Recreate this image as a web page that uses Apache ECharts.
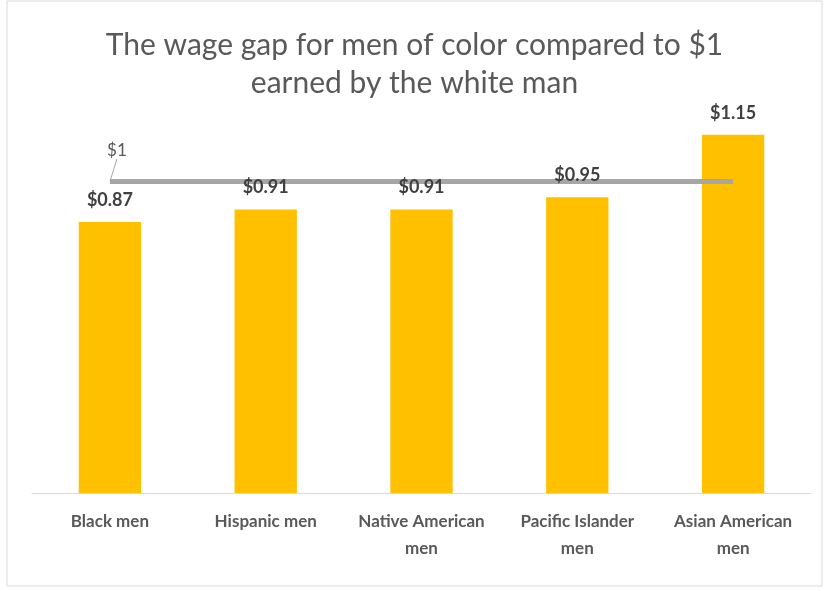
<!DOCTYPE html>
<html>
<head>
<meta charset="utf-8">
<script src="https://cdn.jsdelivr.net/npm/echarts@6/dist/echarts.min.js"></script>
<style>
  html, body { margin: 0; padding: 0; background: #fff; }
  #chartOne { width: 829px; height: 591px; }
</style>
</head>
<body>
<div id="chartOne"></div>
<script>
// values
var categories = ['Black men', 'Hispanic men', 'Native American\nmen', 'Pacific Islander\nmen', 'Asian American\nmen'];
var wages = [0.87, 0.91, 0.91, 0.95, 1.15];
var whiteMan = [1, 1, 1, 1, 1];

var chartOne = echarts.init(document.getElementById('chartOne'));

var valueLabel = {
    show: true,
    position: 'top',
    distance: 13,
    formatter: function (p) { return '$' + p.value.toFixed(2); },
    fontFamily: 'Lato',
    fontWeight: 'bold',
    fontSize: 18,
    color: '#404040'
};

var option = {
    backgroundColor: '#fff',
    title: {
        text: 'The wage gap for men of color compared to $1\nearned by the white man',
        left: 'center',
        top: 21,
        textStyle: {
            fontFamily: 'Lato',
            fontWeight: 'normal',
            fontSize: 30,
            lineHeight: 38,
            color: '#595959'
        }
    },
    graphic: [{
        type: 'rect',
        shape: { x: 7, y: 1, width: 815, height: 585 },
        style: { fill: 'none', stroke: '#d9d9d9', lineWidth: 1 },
        silent: true
    }],
    grid: { left: 32, right: 18, top: 57, bottom: 98 },
    xAxis: {
        type: 'category',
        data: categories,
        axisTick: { show: false },
        axisLine: { lineStyle: { color: '#d9d9d9', width: 1 } },
        axisLabel: {
            interval: 0,
            margin: 15,
            fontFamily: 'Lato',
            fontWeight: 'bold',
            fontSize: 17,
            lineHeight: 27,
            color: '#595959'
        }
    },
    yAxis: {
        type: 'value',
        min: 0,
        max: 1.4,
        show: false,
        splitLine: { show: false }
    },
    series: [
        {
            name: 'wage',
            type: 'bar',
            data: wages,
            barWidth: '40%',
            itemStyle: { color: '#FFC000' },
            z: 2
        },
        {
            name: 'white man',
            type: 'line',
            symbol: 'circle',
            symbolSize: 1,
            showSymbol: true,
            itemStyle: { color: '#a6a6a6', opacity: 0 },
            lineStyle: { color: '#a6a6a6', width: 5 },
            z: 3,
            label: { show: false },
            labelLine: { show: true, lineStyle: { color: '#a6a6a6', width: 1 } },
            labelLayout: function (params) {
                if (params.dataIndex === 0) {
                    return { dx: 7, dy: -14 };
                }
            }
        },
        {
            // invisible copy of the bars, only to put the value labels above the $1 line
            name: 'wage labels',
            type: 'bar',
            data: wages,
            barWidth: '40%',
            barGap: '-100%',
            itemStyle: { color: 'rgba(0,0,0,0)' },
            z: 4,
            silent: true,
            label: valueLabel
        }
    ]
};

// only the first point of the $1 line carries a label
option.series[1].data = whiteMan.map(function (v, i) {
    if (i === 0) {
        return {
            value: v,
            label: {
                show: true,
                position: 'top',
                distance: 8,
                formatter: '$1',
                fontFamily: 'Lato',
                fontSize: 17,
                color: '#595959',
                opacity: 1
            }
        };
    }
    return v;
});

chartOne.setOption(option, true);
</script>
</body>
</html>
